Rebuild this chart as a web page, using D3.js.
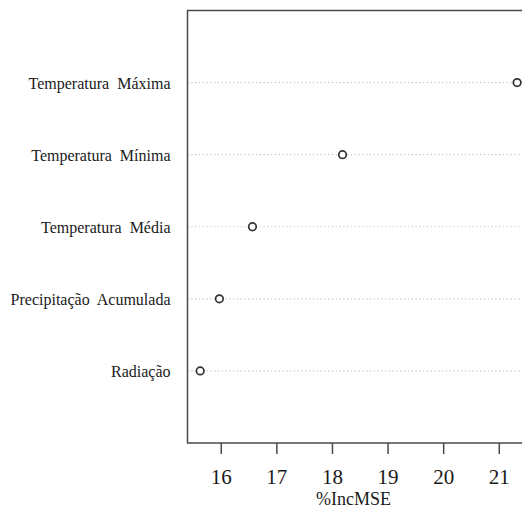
<!DOCTYPE html>
<html>
<head>
<meta charset="utf-8">
<script src="https://cdn.jsdelivr.net/npm/d3@7/dist/d3.min.js"></script>
</head>
<body style="margin:0;background:#fff">
<svg id="chart" width="522" height="508" font-family="Liberation Serif" style="display:block"></svg>
<script>
// Variable importance (%IncMSE), top to bottom
const variables = ["Temperatura Máxima", "Temperatura Mínima", "Temperatura Média", "Precipitação Acumulada", "Radiação"];
const incMSE = [21.33, 18.19, 16.57, 15.975, 15.63];
const xTicks = [16, 17, 18, 19, 20, 21];
const xTitle = "%IncMSE";

const FONT = "Liberation Serif";
const INK = "#1a1a1a";
const plot = { left: 187.5, top: 10.5, bottom: 443 };

// x range padded 4% on each side, R style
const lo = d3.min(incMSE), hi = d3.max(incMSE), pad = (hi - lo) * 0.04;
const x = d3.scaleLinear().domain([lo - pad, hi + pad]).range([plot.left, 529.8]);
const y = d3.scaleLinear().domain([0, variables.length + 1]).range([plot.bottom, plot.top]);
const rowY = (i) => y(variables.length - i);

const svg = d3.select("#chart");

// dotted guide lines
svg.append("g").selectAll("line").data(variables).join("line")
  .attr("x1", plot.left).attr("x2", x.range()[1])
  .attr("y1", (d, i) => rowY(i)).attr("y2", (d, i) => rowY(i))
  .attr("stroke", "#c4c4c4").attr("stroke-width", 1.1)
  .attr("stroke-dasharray", "1.2,2.6");

// plot frame
svg.append("rect")
  .attr("x", plot.left).attr("y", plot.top)
  .attr("width", x.range()[1] - plot.left).attr("height", plot.bottom - plot.top)
  .attr("fill", "none").attr("stroke", "#4a4a4a").attr("stroke-width", 1.5);

// points
svg.append("g").selectAll("circle").data(incMSE).join("circle")
  .attr("cx", d => x(d)).attr("cy", (d, i) => rowY(i)).attr("r", 3.8)
  .attr("fill", "#fff").attr("stroke", "#333").attr("stroke-width", 1.7);

// category labels
svg.append("g").selectAll("text").data(variables).join("text")
  .attr("x", 170.5).attr("y", (d, i) => rowY(i) + 6.5)
  .attr("text-anchor", "end")
  .attr("font-family", FONT).attr("font-size", 16).attr("fill", INK)
  .text(d => d.replace(" ", "\u00a0 "));

// bottom axis
const axis = d3.axisBottom(x).tickValues(xTicks).tickSize(11).tickPadding(0).tickFormat(d3.format("d"));
const gx = svg.append("g").attr("transform", `translate(0,${plot.bottom})`).call(axis)
  .attr("font-family", FONT).attr("font-size", 21);
gx.select(".domain").remove();
gx.selectAll(".tick line").attr("stroke", "#4a4a4a").attr("stroke-width", 1.5);
gx.selectAll(".tick text")
  .attr("y", 41).attr("dy", null)
  .attr("fill", INK);

svg.append("text")
  .attr("x", 353.5).attr("y", 504.5)
  .attr("text-anchor", "middle")
  .attr("font-family", FONT).attr("font-size", 18).attr("fill", INK)
  .text(xTitle);
</script>
</body>
</html>
